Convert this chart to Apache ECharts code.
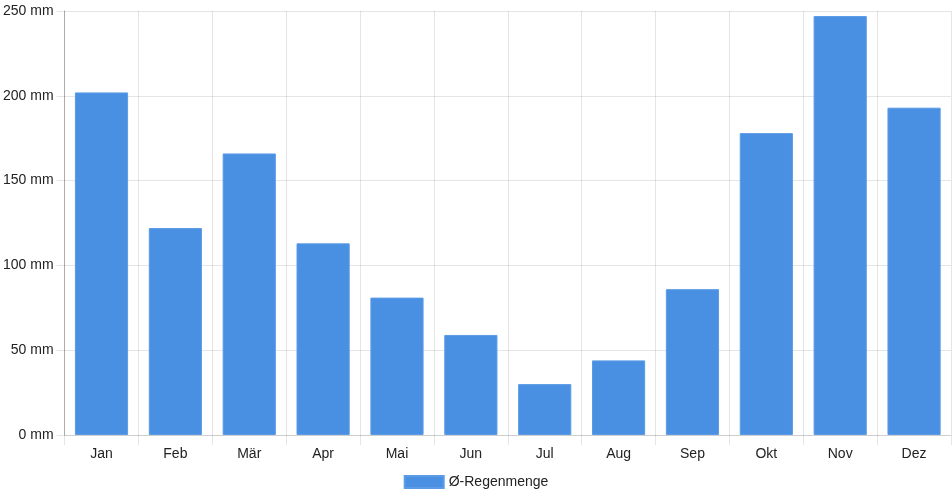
<!DOCTYPE html>
<html>
<head>
<meta charset="utf-8">
<script src="https://cdn.jsdelivr.net/npm/echarts@6/dist/echarts.min.js"></script>
<style>
  html, body { margin: 0; padding: 0; background: #fff; }
  #main { width: 952px; height: 500px; }
</style>
</head>
<body>
<div id="main"></div>
<script>
// Monate
var months = ['Jan', 'Feb', 'Mär', 'Apr', 'Mai', 'Jun', 'Jul', 'Aug', 'Sep', 'Okt', 'Nov', 'Dez'];
// Ø-Regenmenge in mm
var rain = [202, 122, 166, 113, 81, 59, 30, 44, 86, 178, 247, 193];
var seriesName = 'Ø-Regenmenge';

var gridColor = 'rgba(0,0,0,0.1)';
var textColor = '#222';
var font = 'Liberation Sans, Arial, Helvetica, sans-serif';

var myChart = echarts.init(document.getElementById('main'));
myChart.setOption({
  animation: false,
  textStyle: { fontFamily: font },
  grid: { left: 64, right: 1, top: 11, bottom: 65, containLabel: false },
  legend: {
    bottom: 6,
    left: 'center',
    itemWidth: 39,
    itemHeight: 12,
    itemGap: 10,
    icon: 'rect',
    textStyle: { fontSize: 14, color: textColor, fontFamily: font },
    data: [seriesName]
  },
  xAxis: {
    type: 'category',
    data: months,
    boundaryGap: true,
    axisLine: { show: true, lineStyle: { color: gridColor } },
    axisTick: { show: true, length: 10, interval: 0, lineStyle: { color: gridColor } },
    splitLine: { show: true, interval: 0, lineStyle: { color: gridColor } },
    axisLabel: { color: textColor, fontSize: 14, margin: 12, interval: 0, fontFamily: font }
  },
  yAxis: {
    type: 'value',
    min: 0,
    max: 250,
    interval: 50,
    axisLine: { show: true, lineStyle: { color: 'rgba(0,0,0,0.25)' } },
    axisTick: { show: true, length: 8, lineStyle: { color: gridColor } },
    splitLine: { show: true, lineStyle: { color: gridColor } },
    axisLabel: { color: textColor, fontSize: 14, margin: 11, formatter: '{value} mm', fontFamily: font }
  },
  series: [{
    name: seriesName,
    type: 'bar',
    data: rain,
    barWidth: '72%',
    itemStyle: { color: '#4a90e2', borderColor: '#5c9be6', borderWidth: 1 }
  }]
});
</script>
</body>
</html>
